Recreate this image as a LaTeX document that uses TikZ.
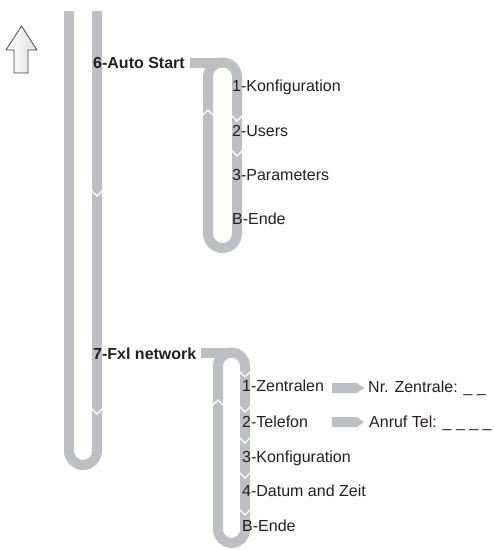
\documentclass[tikz,border=0pt]{standalone}
\usepackage{fontspec}
\setmainfont{Liberation Sans}
\usepackage{xcolor}
\definecolor{bargray}{RGB}{190,191,194}
\definecolor{textdark}{RGB}{35,31,32}
\definecolor{arrowedge}{RGB}{70,70,70}
\tikzset{
    bar/.style={draw=bargray, line width=10pt},
    notch/.style={draw=white, line width=1.4pt},
    menuhead/.style={font=\fontsize{16}{18}\selectfont\bfseries, text=textdark, anchor=base west, inner sep=0pt},
    menuitem/.style={font=\fontsize{16}{18}\selectfont, text=textdark, anchor=base west, inner sep=0pt},
    pointer/.style={fill=bargray, draw=none}
}
\newcommand{\notchdown}[2]{\draw[notch] (#1-5.5,#2-5.5) -- (#1,#2) -- (#1+5.5,#2-5.5);}
\newcommand{\notchup}[2]{\draw[notch] (#1-5.5,#2+5.5) -- (#1,#2) -- (#1+5.5,#2+5.5);}
\newcommand{\pointerat}[1]{\fill[pointer] (332,#1-5) -- (357,#1-5) -- (364,#1) -- (357,#1+5) -- (332,#1+5) -- cycle;}

\begin{document}
\begin{tikzpicture}[x=1pt, y=-1pt]
    \useasboundingbox (0,0) rectangle (495,550);
    % Seta para cima
    \draw[draw=arrowedge, line width=0.8pt, left color=white, right color=gray!25]
        (21.5,26) -- (37,50) -- (28,50) -- (28,73) -- (14,73) -- (14,50) -- (6,50) -- cycle;
    % Barra principal
    \draw[bar, rounded corners=14pt] (69,11) -- (69,465) -- (97,465) -- (97,11);
    \notchdown{97}{196}
    \notchdown{97}{414}
    % Laco 6
    \draw[bar, rounded corners=14.5pt] (208,62.5) rectangle (237,248);
    \draw[bar] (190,62.5) -- (222.5,62.5);
    \notchup{208}{110}
    \notchdown{237}{121}
    \notchdown{237}{156}
    % Laco 7
    \draw[bar, rounded corners=13.5pt] (218,352.5) rectangle (245,543);
    \draw[bar] (201,352.5) -- (231.5,352.5);
    \notchup{218}{400}
    \notchdown{245}{377}
    \notchdown{245}{412}
    \notchdown{245}{443}
    \notchdown{245}{478}
    \notchdown{245}{515}
    % Setas pequenas
    \pointerat{388}
    \pointerat{422}
    % Textos
    \node[menuhead] (autostart) at (93,68) {6-Auto Start};
    \node[menuitem] (konfigA) at (232,91) {1-Konfiguration};
    \node[menuitem] (users) at (232,136) {2-Users};
    \node[menuitem] (params) at (232,180) {3-Parameters};
    \node[menuitem] (endeA) at (232,224) {B-Ende};
    \node[menuhead] (fxlnet) at (93,359) {7-Fxl network};
    \node[menuitem] (zentralen) at (242,391) {1-Zentralen};
    \node[menuitem] (telefon) at (242,427) {2-Telefon};
    \node[menuitem] (konfigB) at (242,462) {3-Konfiguration};
    \node[menuitem] (datum) at (242,496) {4-Datum and Zeit};
    \node[menuitem] (endeB) at (242,531) {B-Ende};
    \node[menuitem] (nrzentrale) at (368,392) {Nr. Zentrale: \_ \_};
    \node[menuitem] (anruf) at (369,427) {Anruf Tel: \_ \_ \_ \_};
\end{tikzpicture}
\end{document}
